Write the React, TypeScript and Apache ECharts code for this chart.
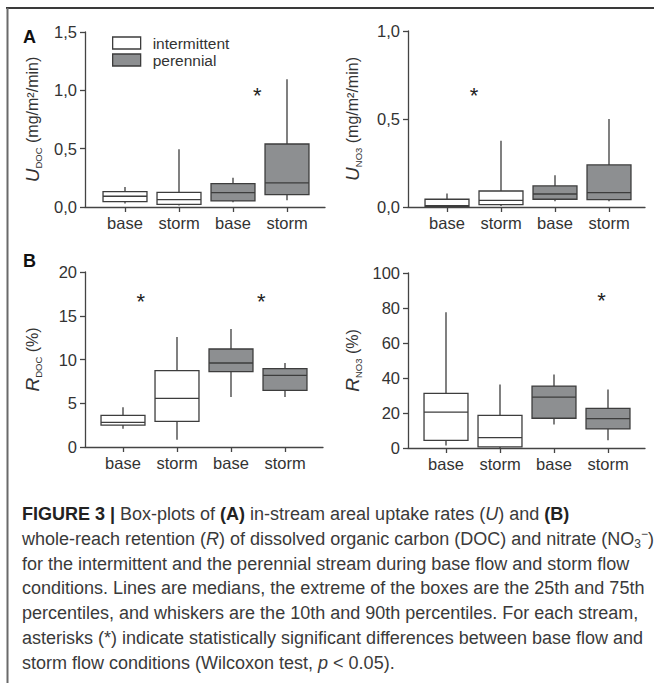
import React, { useEffect, useRef } from "react";
import * as echarts from "echarts";

// ---------- data ----------
const categories = ["base", "storm", "base", "storm"];
const streams = ["intermittent", "perennial"];

// rows: [categoryIndex, p10, p25, median, p75, p90]
const uDocIntermittent = [
  [0, 0.03, 0.046, 0.092, 0.132, 0.172],
  [1, 0.012, 0.023, 0.063, 0.126, 0.496],
];
const uDocPerennial = [
  [2, 0.04, 0.052, 0.123, 0.2, 0.25],
  [3, 0.057, 0.106, 0.206, 0.54, 1.095],
];
const uNo3Intermittent = [
  [0, 0.0, 0.003, 0.008, 0.044, 0.076],
  [1, 0.006, 0.013, 0.038, 0.091, 0.376],
];
const uNo3Perennial = [
  [2, 0.032, 0.044, 0.074, 0.12, 0.18],
  [3, 0.032, 0.042, 0.082, 0.239, 0.5],
];
const rDocIntermittent = [
  [0, 2.1, 2.51, 2.82, 3.62, 4.53],
  [1, 0.84, 2.93, 5.56, 8.72, 12.57],
];
const rDocPerennial = [
  [2, 5.71, 8.61, 9.6, 11.2, 13.49],
  [3, 5.71, 6.48, 8.19, 8.95, 9.6],
];
const rNo3Intermittent = [
  [0, 1.5, 4.4, 20.5, 31.2, 77.6],
  [1, 0, 0.6, 5.9, 18.7, 36.3],
];
const rNo3Perennial = [
  [2, 13.4, 17.0, 29.1, 35.4, 42.0],
  [3, 4.4, 10.9, 16.8, 22.6, 33.5],
];

// significance asterisks: [position in category units, value]
const uDocStars = [[2.45, 0.98]];
const uNo3Stars = [[0.5, 0.649]];
const rDocStars = [[0.33, 17.0], [2.56, 17.0]];
const rNo3Stars = [[2.88, 86.2]];

// y axes
const uDocTicks = ["0,0", "0,5", "1,0", "1,5"];
const uNo3Ticks = ["0,0", "0,5", "1,0"];
const rDocTicks = ["0", "5", "10", "15", "20"];
const rNo3Ticks = ["0", "20", "40", "60", "80", "100"];

const captionLines = [
  "{b|FIGURE 3 |} Box-plots of {b|(A)} in-stream areal uptake rates ({i|U}) and {b|(B)}",
  "whole-reach retention ({i|R}) of dissolved organic carbon (DOC) and nitrate (NO{sub|3}{sup|−})",
  "for the intermittent and the perennial stream during base flow and storm flow",
  "conditions. Lines are medians, the extreme of the boxes are the 25th and 75th",
  "percentiles, and whiskers are the 10th and 90th percentiles. For each stream,",
  "asterisks (*) indicate statistically significant differences between base flow and",
  "storm flow conditions (Wilcoxon test, {i|p} < 0.05).",
];

// ---------- styling ----------
const FONT = "'Liberation Sans', Arial, Helvetica, sans-serif";
const AXIS = "#444";
const TEXT = "#333";
const CAPTION = "#3a3a3a";
const STROKE = "#3d3d3d";
const FILL = { intermittent: "#ffffff", perennial: "#8d8f91" };

type Panel = {
  inter: number[][];
  peren: number[][];
  stars: number[][];
  ticks: string[];
  min: number;
  max: number;
  interval: number;
  name: string;
  sub: string;
  unit: string;
  outer: { left: number; top: number; width: number; height: number };
  innerLeft: number;
  nameGap: number;
};

const panels: Panel[] = [
  {
    inter: uDocIntermittent, peren: uDocPerennial, stars: uDocStars, ticks: uDocTicks,
    min: 0, max: 1.5, interval: 0.5, name: "U", sub: "DOC", unit: "(mg/m²/min)",
    outer: { left: 85, top: 32, width: 240, height: 175 }, innerLeft: 98, nameGap: 42,
  },
  {
    inter: uNo3Intermittent, peren: uNo3Perennial, stars: uNo3Stars, ticks: uNo3Ticks,
    min: 0, max: 1.0, interval: 0.5, name: "U", sub: "NO3", unit: "(mg/m²/min)",
    outer: { left: 408, top: 31, width: 237, height: 176 }, innerLeft: 420, nameGap: 45,
  },
  {
    inter: rDocIntermittent, peren: rDocPerennial, stars: rDocStars, ticks: rDocTicks,
    min: 0, max: 20, interval: 5, name: "R", sub: "DOC", unit: "(%)",
    outer: { left: 85, top: 272, width: 238, height: 175 }, innerLeft: 96, nameGap: 42,
  },
  {
    inter: rNo3Intermittent, peren: rNo3Perennial, stars: rNo3Stars, ticks: rNo3Ticks,
    min: 0, max: 100, interval: 20, name: "R", sub: "NO3", unit: "(%)",
    outer: { left: 408, top: 273, width: 237, height: 175 }, innerLeft: 419, nameGap: 45,
  },
];

function makeBoxRenderer(fill: string) {
  return function (params: any, api: any) {
    const x = api.value(0);
    const lo = api.coord([x, api.value(1)]);
    const q1 = api.coord([x, api.value(2)]);
    const md = api.coord([x, api.value(3)]);
    const q3 = api.coord([x, api.value(4)]);
    const hi = api.coord([x, api.value(5)]);
    const band = api.size([1, 0])[0];
    const half = band * 0.407;
    const cx = lo[0];
    const ls = { stroke: STROKE, lineWidth: 1.3, fill: "none" };
    return {
      type: "group",
      children: [
        { type: "line", shape: { x1: cx, y1: hi[1], x2: cx, y2: q3[1] }, style: ls },
        { type: "line", shape: { x1: cx, y1: q1[1], x2: cx, y2: lo[1] }, style: ls },
        {
          type: "rect",
          shape: { x: cx - half, y: q3[1], width: half * 2, height: q1[1] - q3[1] },
          style: { fill, stroke: STROKE, lineWidth: 1.3 },
        },
        { type: "line", shape: { x1: cx - half, y1: md[1], x2: cx + half, y2: md[1] }, style: ls },
      ],
    };
  };
}

function starRenderer(params: any, api: any) {
  const p = api.coord([api.value(0), api.value(1)]);
  return {
    type: "text",
    x: p[0],
    y: p[1] + 3,
    style: {
      text: "*",
      fontSize: 22,
      fontFamily: FONT,
      fill: "#222",
      align: "center",
      verticalAlign: "middle",
    },
  };
}

function buildOption() {
  const grid: any[] = [];
  const xAxis: any[] = [];
  const yAxis: any[] = [];
  const series: any[] = [];

  panels.forEach((p, i) => {
    const o = p.outer;
    grid.push({ left: o.left, top: o.top, width: o.width, height: o.height });
    grid.push({ left: p.innerLeft, top: o.top, width: 216, height: o.height });
    const gOuter = 2 * i;
    const gInner = 2 * i + 1;

    // outer: axis lines, y ticks, y labels, y name
    xAxis.push({
      type: "value", gridIndex: gOuter, min: 0, max: 1,
      axisLine: { show: true, lineStyle: { color: AXIS, width: 1.3 } },
      axisTick: { show: false }, axisLabel: { show: false }, splitLine: { show: false },
    });
    // inner: category ticks + labels
    xAxis.push({
      type: "category", gridIndex: gInner, data: categories, boundaryGap: true,
      axisLine: { show: false },
      axisTick: { show: true, alignWithLabel: true, length: 5, lineStyle: { color: AXIS, width: 1.3 } },
      axisLabel: { show: true, margin: 7, fontSize: 16.5, color: TEXT, fontFamily: FONT },
      splitLine: { show: false },
    });
    // inner: value axis for asterisk placement
    xAxis.push({
      type: "value", gridIndex: gInner, min: -0.5, max: 3.5, show: false,
      splitLine: { show: false },
    });

    yAxis.push({
      type: "value", gridIndex: gOuter, min: p.min, max: p.max, interval: p.interval,
      axisLine: { show: true, lineStyle: { color: AXIS, width: 1.3 } },
      axisTick: { show: true, length: 5, lineStyle: { color: AXIS, width: 1.3 } },
      axisLabel: {
        show: true, margin: 8, fontSize: 16.5, color: TEXT, fontFamily: FONT,
        formatter: (_v: number, idx: number) => p.ticks[idx],
      },
      splitLine: { show: false },
      name: `{u|${p.name}}{s|${p.sub}} {n|${p.unit}}`,
      nameLocation: "middle",
      nameGap: p.nameGap,
      nameTextStyle: {
        color: TEXT, fontFamily: FONT, fontSize: 16,
        rich: {
          u: { fontStyle: "italic", fontSize: 19, color: TEXT, fontFamily: FONT, lineHeight: 22 },
          s: { fontSize: 9.5, color: TEXT, fontFamily: FONT, verticalAlign: "bottom", lineHeight: 12 },
          n: { fontSize: 16, color: TEXT, fontFamily: FONT, lineHeight: 22 },
        },
      },
    });
    yAxis.push({
      type: "value", gridIndex: gInner, min: p.min, max: p.max, interval: p.interval, show: false,
      splitLine: { show: false },
    });

    const xCat = 3 * i + 1;
    const xVal = 3 * i + 2;
    const yIn = 2 * i + 1;
    series.push({
      type: "custom", name: streams[0], xAxisIndex: xCat, yAxisIndex: yIn,
      data: p.inter, encode: { x: 0, y: [1, 2, 3, 4, 5] },
      itemStyle: { color: FILL.intermittent, borderColor: STROKE },
      renderItem: makeBoxRenderer(FILL.intermittent), z: 3,
    });
    series.push({
      type: "custom", name: streams[1], xAxisIndex: xCat, yAxisIndex: yIn,
      data: p.peren, encode: { x: 0, y: [1, 2, 3, 4, 5] },
      itemStyle: { color: FILL.perennial, borderColor: STROKE },
      renderItem: makeBoxRenderer(FILL.perennial), z: 3,
    });
    series.push({
      type: "custom", name: "significance", xAxisIndex: xVal, yAxisIndex: yIn,
      data: p.stars, encode: { x: 0, y: 1 }, renderItem: starRenderer, z: 4,
    });
  });

  const graphic: any[] = [
    { type: "line", shape: { x1: 6, y1: 8, x2: 654, y2: 8 }, style: { stroke: "#3a3a3a", lineWidth: 2.2 } },
    { type: "line", shape: { x1: 7.5, y1: 8, x2: 7.5, y2: 683 }, style: { stroke: "#6a6a6a", lineWidth: 2 } },
    {
      type: "text", left: 23, top: 28,
      style: { text: "A", fontSize: 18, fontWeight: "bold", fontFamily: FONT, fill: "#111" },
    },
    {
      type: "text", left: 23, top: 252,
      style: { text: "B", fontSize: 18, fontWeight: "bold", fontFamily: FONT, fill: "#111" },
    },
  ];
  captionLines.forEach((line, k) => {
    graphic.push({
      type: "text",
      x: 22,
      y: 514 + 24.8 * k,
      style: {
        text: line,
        fontSize: 18,
        fontFamily: FONT,
        fill: CAPTION,
        verticalAlign: "middle",
        lineHeight: 22,
        rich: {
          b: { fontWeight: "bold", fontSize: 18, fontFamily: FONT, fill: "#222", lineHeight: 22 },
          i: { fontStyle: "italic", fontSize: 18, fontFamily: FONT, fill: CAPTION, lineHeight: 22 },
          sub: { fontSize: 12, fontFamily: FONT, fill: CAPTION, verticalAlign: "bottom", lineHeight: 12 },
          sup: { fontSize: 12, fontFamily: FONT, fill: CAPTION, verticalAlign: "top", lineHeight: 12 },
        },
      },
    });
  });

  return {
    animation: false,
    backgroundColor: "#ffffff",
    textStyle: { fontFamily: FONT },
    legend: {
      show: true,
      left: 107,
      top: 30,
      orient: "vertical",
      itemWidth: 28,
      itemHeight: 12,
      itemGap: 1,
      selectedMode: false,
      textStyle: { fontSize: 15.5, color: TEXT, fontFamily: FONT, padding: [0, 0, 0, 7], lineHeight: 16 },
      data: [
        { name: streams[0], icon: "rect", itemStyle: { color: FILL.intermittent, borderColor: STROKE, borderWidth: 1.3 } },
        { name: streams[1], icon: "rect", itemStyle: { color: FILL.perennial, borderColor: STROKE, borderWidth: 1.3 } },
      ],
    },
    grid,
    xAxis,
    yAxis,
    series,
    graphic,
  };
}

export default function App() {
  const ref = useRef<HTMLDivElement>(null);
  useEffect(() => {
    if (!ref.current) return;
    const chart = echarts.init(ref.current, undefined, { renderer: "svg" });
    chart.setOption(buildOption() as any);
    return () => chart.dispose();
  }, []);
  return (
    <div
      ref={ref}
      style={{ position: "absolute", left: 0, top: 0, width: 654, height: 683, background: "#fff" }}
    />
  );
}
